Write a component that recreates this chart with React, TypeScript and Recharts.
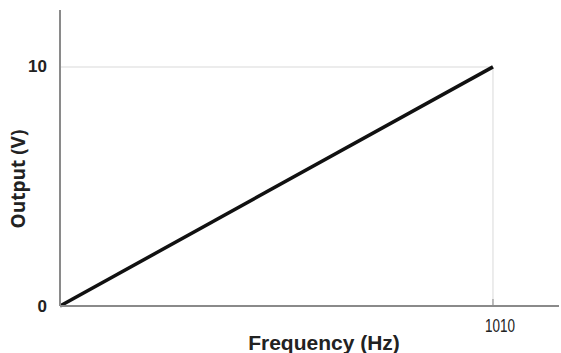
import React from 'react';
import { LineChart, Line, XAxis, YAxis, ReferenceLine } from 'recharts';

const frequencies = [0, 1010];
const outputs = [0, 10];
const xTicks = [1010];
const yTicks = [0, 10];
const xMax = 1164;
const yMax = 12.38;

const data = frequencies.map((f, i) => ({ f, v: outputs[i] }));

const AXIS = '#8a8a8a';
const GRID = '#e6e6e6';

const YTick = (props: any) => {
  const { y, payload } = props;
  return (
    <text x={47} y={y} textAnchor="end" dominantBaseline="central" fontWeight="bold" fontSize={17}
      fontFamily="'Liberation Sans', Arial, sans-serif" fill="#222">{payload.value}</text>
  );
};

const XTick = (props: any) => {
  const { x, payload } = props;
  return (
    <g>
      <line x1={x} x2={x} y1={306} y2={299} stroke={AXIS} strokeWidth={1} />
      <text x={x + 7} y={332} textAnchor="middle" fontSize={17.5}
        textLength={30} lengthAdjust="spacingAndGlyphs"
        fontFamily="'Liberation Sans Narrow', 'Arial Narrow', 'Liberation Sans', sans-serif" fill="#222">{payload.value}</text>
    </g>
  );
};

export default function App() {
  return (
    <div style={{ position: 'absolute', left: 0, top: 0, background: '#fff' }}>
      <LineChart width={561} height={353} data={data} margin={{ top: 10, right: 2, left: 0, bottom: 0 }}>
        <XAxis
          dataKey="f"
          type="number"
          domain={[0, xMax]}
          ticks={xTicks}
          tick={<XTick />}
          tickLine={false}
          axisLine={{ stroke: AXIS, strokeWidth: 2 }}
          height={47}
          label={{
            content: () => (
              <text x={324} y={350} textAnchor="middle" fontWeight="bold" fontSize={21}
                fontFamily="'Liberation Sans', Arial, sans-serif" fill="#222">Frequency (Hz)</text>
            ),
          }}
        />
        <YAxis
          type="number"
          domain={[0, yMax]}
          ticks={yTicks}
          tick={<YTick />}
          tickLine={false}
          axisLine={{ stroke: AXIS, strokeWidth: 2 }}
          width={60}
          label={{
            content: () => (
              <text x={25} y={179} transform="rotate(-90 25 179)" textAnchor="middle" fontWeight="bold" fontSize={19}
                fontFamily="'Open Sans', sans-serif" fill="#222">Output (V)</text>
            ),
          }}
        />
        <ReferenceLine segment={[{ x: 0, y: 10 }, { x: 1010, y: 10 }]} stroke={GRID} strokeWidth={1.5} ifOverflow="visible" />
        <ReferenceLine segment={[{ x: 1010, y: 0 }, { x: 1010, y: 10 }]} stroke={GRID} strokeWidth={1.5} ifOverflow="visible" />
        <Line dataKey="v" stroke="#111" strokeWidth={3.5} dot={false} isAnimationActive={false} />
      </LineChart>
    </div>
  );
}
